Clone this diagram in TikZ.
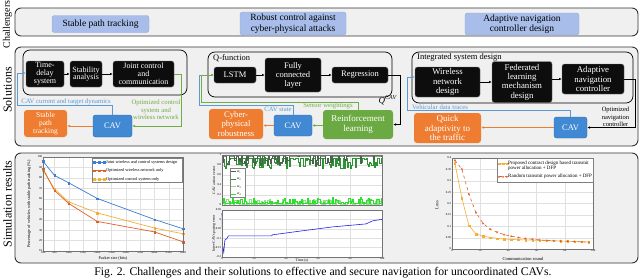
\documentclass[tikz,border=0pt]{standalone}
\usepackage{fontspec}
\setmainfont{Liberation Serif}
\usetikzlibrary{arrows.meta,plotmarks}

\definecolor{panelgray}{HTML}{F0F0F0}
\definecolor{chfill}{HTML}{A8BDE9}
\definecolor{chdraw}{HTML}{8DA7DA}
\definecolor{cavblue}{HTML}{4189D3}
\definecolor{linkblue}{HTML}{5B9BD5}
\definecolor{linkgreen}{HTML}{70AD47}
\definecolor{outorange}{HTML}{EE7D31}
\definecolor{rlgreen}{HTML}{6BAA42}
\definecolor{mblue}{HTML}{3A7FD0}
\definecolor{mred}{HTML}{E0602A}
\definecolor{myellow}{HTML}{F2B134}
\definecolor{wone}{HTML}{46644A}
\definecolor{wtwo}{HTML}{2E9433}
\definecolor{wthree}{HTML}{8FDE8A}
\definecolor{wfour}{HTML}{2BE02B}
\definecolor{errblue}{HTML}{2222EE}

\tikzset{
  panel/.style={draw=black!80, line width=0.9pt, rounded corners=6pt, fill=panelgray},
  grpbox/.style={draw=black, line width=0.7pt, rounded corners=7pt},
  chbox/.style={draw=chdraw, fill=chfill, rounded corners=2.5pt, align=center,
    inner sep=1pt, font=\fontsize{9.5}{10.5}\selectfont},
  blkbox/.style={fill=black!95, draw=black!55, rounded corners=2.5pt, text=white,
    align=center, inner sep=1pt},
  cavbox/.style={fill=cavblue, draw=cavblue!80!black, rounded corners=2.5pt,
    text=white, align=center, inner sep=1pt, font=\fontsize{8.5}{9}\selectfont},
  outbox/.style={fill=outorange, rounded corners=3pt, text=white, align=center,
    inner sep=1pt},
  rlbox/.style={fill=rlgreen, rounded corners=3pt, text=white, align=center,
    inner sep=1pt, font=\fontsize{9}{10}\selectfont},
  lbl/.style={align=center, inner sep=0pt, font=\fontsize{6.7}{7.3}\selectfont},
  sidelbl/.style={rotate=90, inner sep=0pt, font=\fontsize{12}{12}\selectfont},
  arr/.style={-{Latex[length=2.8pt,width=2.6pt]}, line width=0.7pt},
  axbox/.style={draw=black!55, line width=0.3pt, fill=white},
  axedge/.style={draw=black!55, line width=0.3pt},
  gridln/.style={draw=black!12, line width=0.25pt},
  ticklbl/.style={inner sep=0.7pt, font=\fontsize{3}{3}\selectfont},
  axlbl/.style={inner sep=0pt, font=\fontsize{4.2}{4.2}\selectfont},
  leglbl/.style={anchor=west, align=left, inner sep=0pt, font=\fontsize{4.3}{5}\selectfont},
  legbox/.style={draw=black!50, line width=0.25pt, fill=white},
}

\begin{document}
\begin{tikzpicture}[x=1pt, y=-1pt]
  \useasboundingbox (0,0) rectangle (640,279);

  % Row labels on the left
  \node[sidelbl, font=\fontsize{10}{10}\selectfont] (lblchal) at (7.5,24.5) {Challengers};
  \node[sidelbl] (lblsol) at (7.5,90) {Solutions};
  \node[sidelbl] (lblsim) at (7.5,204) {Simulation results};

  % Challengers panel
  \draw[panel] (15,8) rectangle (638,36);
  \node[chbox, minimum width=97pt, minimum height=17pt] (chpath) at (100.5,24) {Stable path tracking};
  \node[chbox, minimum width=106pt, minimum height=23pt] (chrobust) at (293,23.5) {Robust control against\\cyber-physical attacks};
  \node[chbox, minimum width=114pt, minimum height=22pt] (chadapt) at (522,24) {Adaptive navigation\\controller design};

  % Solutions panel
  \draw[panel] (15,47) rectangle (638,146);

  % Solution 1: stable path tracking
  \draw[grpbox] (23,50) rectangle (187,95);
  \node[blkbox, font=\fontsize{8}{7.8}\selectfont, minimum width=38pt, minimum height=26pt] (tds) at (45,74) {Time-\\delay\\system};
  \node[blkbox, font=\fontsize{8}{7.8}\selectfont, minimum width=32pt, minimum height=26pt] (sta) at (86,74) {Stability\\analysis};
  \node[blkbox, font=\fontsize{8}{7.8}\selectfont, minimum width=61pt, minimum height=26pt] (jcc) at (143.5,74) {Joint control\\and\\communication};
  \draw[arr] (tds) -- (sta);
  \draw[arr] (sta) -- (jcc);
  \node[cavbox, minimum width=39pt, minimum height=22pt] (cav1) at (112.5,126) {CAV};
  \node[outbox, font=\fontsize{7.5}{8}\selectfont, minimum width=43pt, minimum height=27pt] (spt) at (45.5,123.5) {Stable\\path\\tracking};
  \draw[arr, linkgreen] (jcc.east) -- ++(7,0) |- (cav1.east);
  \draw[arr, outorange] (cav1.west) -- (cav1.west -| spt.east);
  \coordinate (cavdyn) at (17,105);
  \draw[arr, linkblue] (cav1.north) |- (cavdyn) |- ([yshift=1pt]tds.west);
  \node[lbl, text=linkblue] (lblcavdyn) at (66,101.5) {CAV current and target dynamics};
  \node[lbl, text=linkgreen] (lbloptctl) at (156,110) {Optimized control\\system and\\wireless network};

  % Solution 2: robust control
  \draw[grpbox] (208,52) rectangle (392,97);
  \node[anchor=west, inner sep=0pt, font=\fontsize{8.4}{9}\selectfont] (lblqf) at (213,58.5) {Q-function};
  \node[blkbox, font=\fontsize{8.5}{9}\selectfont, minimum width=42pt, minimum height=16pt] (lstm) at (235,75) {LSTM};
  \node[blkbox, font=\fontsize{8.5}{9}\selectfont, minimum width=56pt, minimum height=34pt] (fcl) at (293,75) {Fully\\connected\\layer};
  \node[blkbox, font=\fontsize{8.5}{9}\selectfont, minimum width=56pt, minimum height=16pt] (reg) at (360,75) {Regression};
  \draw[arr] (lstm) -- (fcl);
  \draw[arr] (fcl) -- (reg);
  \node[rlbox, minimum width=70pt, minimum height=29pt] (rl) at (358,124.5) {Reinforcement\\learning};
  \node[cavbox, minimum width=38pt, minimum height=21pt] (cav2) at (293,125.5) {CAV};
  \node[outbox, font=\fontsize{8.7}{9.3}\selectfont, minimum width=54pt, minimum height=30pt] (cps) at (236,124) {Cyber-\\physical\\robustness};
  \draw[arr] (reg.east) -- ++(12,0) |- (rl.east);
  \node[anchor=east, inner sep=0pt, font=\fontsize{9}{9}\selectfont] (lblq) at (397.5,100) {\textit{Q}\textsuperscript{\textit{CAV}}};
  \draw[arr, linkgreen] (rl.west |- cav2.east) -- (cav2.east);
  \draw[arr, outorange] (cav2.west) -- (cav2.west -| cps.east);
  \coordinate (cavst) at (199,105);
  \coordinate (sensw) at (201,102);
  \draw[arr, linkblue] (cav2.north) |- (cavst) |- (lstm.west);
  \draw[arr, linkgreen] (rl.north) |- (sensw) |- (lstm.west);
  \node[lbl, text=linkblue] (lblcavst) at (278,109.5) {CAV state};
  \node[lbl, text=linkgreen] (lblsensw) at (328,106) {Sensor weightings};

  % Solution 3: adaptive navigation
  \draw[grpbox] (412,52) rectangle (633,103);
  \node[anchor=west, inner sep=0pt, font=\fontsize{8.5}{9}\selectfont] (lblisd) at (417,57.5) {Integrated system design};
  \node[blkbox, font=\fontsize{8.8}{9.3}\selectfont, minimum width=65pt, minimum height=30pt] (wnd) at (447.5,82) {Wireless\\network\\design};
  \node[blkbox, font=\fontsize{8.8}{9.3}\selectfont, minimum width=60pt, minimum height=41pt] (fld) at (522,82) {Federated\\learning\\mechanism\\design};
  \node[blkbox, font=\fontsize{8.8}{9.3}\selectfont, minimum width=62pt, minimum height=30pt] (anc) at (593,79) {Adaptive\\navigation\\controller};
  \draw[arr] (wnd) -- (fld);
  \draw[arr] (fld.east |- anc.west) -- (anc.west);
  \node[cavbox, minimum width=33pt, minimum height=21pt] (cav3) at (570.5,127.5) {CAV};
  \node[outbox, font=\fontsize{9}{9.8}\selectfont, minimum width=67pt, minimum height=30pt] (qat) at (447.5,128) {Quick\\adaptivity to\\the traffic};
  \draw[arr] (anc.east) -- ++(11,0) |- (cav3.east);
  \draw[arr, outorange] (cav3.west) -- (cav3.west -| qat.east);
  \coordinate (vdtr) at (407,110);
  \draw[arr, linkblue] (cav3.north) |- (vdtr) |- ([yshift=5pt]wnd.west);
  \node[lbl, anchor=west, text=linkblue] (lblvdt) at (412,107) {Vehicular data traces};
  \node[lbl, font=\fontsize{6.5}{7.3}\selectfont] (lbloptnav) at (615.5,117) {Optimized\\navigation\\controller};

  % Simulation results panel
  \draw[panel] (15,153) rectangle (638,263);

  % Plot 1: packet size
  \draw[axbox] (43,157) rectangle (183,251);
  \begin{scope}[shift={(40.143,261.444)}, x=0.028571pt, y=1.04444pt]
    \foreach \gx [count=\i] in {100,500,1000,1500,2000,2500,3000,3500,4000,4500,5000} {
      \draw[gridln] (\gx,10) -- (\gx,100);
      \node[ticklbl, anchor=north] (xtpkt\i) at (\gx,10) {\gx};
    }
    \foreach \gy [count=\i] in {10,20,30,40,50,60,70,80,90,100} {
      \draw[gridln] (100,\gy) -- (5000,\gy);
      \node[ticklbl, anchor=east] (ytpkt\i) at (100,\gy) {\gy};
    }
    \draw[mblue, line width=0.7pt] plot[mark=square*, mark size=0.8pt, mark options={line width=0.2pt}]
      coordinates {(100,96) (500,82.4) (1000,75.3) (2000,60.3) (4000,40.2) (5000,31.3)};
    \draw[myellow, line width=0.7pt] plot[mark=square*, mark size=0.8pt, mark options={line width=0.2pt}]
      coordinates {(100,87) (500,69.5) (1000,57) (2000,46.5) (4000,32) (5000,26.5)};
    \draw[mred, line width=0.7pt] plot[mark=square*, mark size=0.8pt, mark options={line width=0.2pt}]
      coordinates {(100,89) (500,68) (1000,55.5) (2000,38.3) (4000,28.3) (5000,18.8)};
  \end{scope}
  \draw[axedge] (43,157) rectangle (183,251);
  \node[axlbl, rotate=90] (ylblpkt) at (29,204) {Percentage of vehicles with stable path tracking (\%)};
  \node[axlbl] (xlblpkt) at (113,258.5) {Packet size (bits)};
  \draw[legbox] (92,158) rectangle (182,182);
  \foreach \c/\t/\yy [count=\i] in {mblue/Joint wireless and control systems design/162.3,
      mred/Optimized wireless network only/170.7, myellow/Optimized control system only/179} {
    \draw[\c, line width=0.7pt] plot[mark=square*, mark size=0.8pt, mark options={line width=0.2pt}]
      coordinates {(94,\yy) (99,\yy) (104,\yy)};
    \node[leglbl] (legpkt\i) at (106,\yy) {\t};
  }

  % Plot 2: CAV action vector and spacing error
  \draw[axbox] (222,155) rectangle (382,205);
  \begin{scope}[shift={(222,205)}, x=1.6pt, y=50pt]
    \foreach \gx in {0,20,40,60,80,100}
      \draw[gridln] (\gx,0) -- (\gx,1);
    \foreach \gy [count=\i] in {0,0.2,0.4,0.6,0.8,1} {
      \draw[gridln] (0,\gy) -- (100,\gy);
      \node[ticklbl, anchor=east] (ytact\i) at (0,\gy) {\gy};
    }
    \pgfmathsetseed{7}
    \draw[wtwo, line width=0.5pt, const plot] plot[domain=0:100, samples=140]
      (\x,{0.93-0.2*max(0,rnd-0.45)/0.55});
    \draw[wone, line width=0.5pt, const plot] plot[domain=0:100, samples=140]
      (\x,{0.98-0.2*max(0,rnd-0.6)/0.4});
    \draw[wthree, line width=0.5pt, const plot] plot[domain=0:100, samples=140]
      (\x,{0.02+0.1*max(0,rnd-0.5)/0.5});
    \draw[wfour, line width=0.5pt, const plot] plot[domain=0:100, samples=140]
      (\x,{0.03+0.12*max(0,rnd-0.55)/0.45});
  \end{scope}
  \draw[axedge] (222,155) rectangle (382,205);
  \draw[legbox] (230,168) rectangle (245,197);
  \foreach \c/\n/\yy in {wone/1/171.7, wtwo/2/179.3, wthree/3/186.7, wfour/4/194} {
    \draw[\c, line width=0.6pt] (231,\yy) -- (236,\yy);
    \node[leglbl, font=\fontsize{3.8}{4}\selectfont] (legw\n) at (236.6,\yy) {\textit{w}\textsubscript{\n}};
  }
  \node[axlbl, rotate=90, font=\fontsize{3.8}{4}\selectfont] (ylblact) at (214,180) {CAV action vector};

  \draw[axbox] (222,210) rectangle (382,257);
  \begin{scope}[shift={(222,219.4)}, x=1.6pt, y=188pt]
    \foreach \gx [count=\i] in {0,20,40,60,80,100} {
      \draw[gridln] (\gx,-0.2) -- (\gx,0.05);
      \node[ticklbl, anchor=north] (xttime\i) at (\gx,-0.2) {\gx};
    }
    \foreach \gy [count=\i] in {0.05,0,-0.05,-0.1,-0.15,-0.2} {
      \draw[gridln] (0,\gy) -- (100,\gy);
      \node[ticklbl, anchor=east] (yterr\i) at (0,\gy) {\gy};
    }
    \draw[errblue, line width=0.6pt] plot coordinates {(0,0.034) (0.4,-0.14) (1.1,-0.175) (1.8,-0.11)
      (2.8,-0.104) (4,-0.088) (31,-0.088) (31.5,-0.082) (49,-0.062) (69,-0.04) (90,-0.024)
      (94,-0.008) (99,-0.001) (100,0)};
  \end{scope}
  \draw[axedge] (222,210) rectangle (382,257);
  \node[axlbl, rotate=90, font=\fontsize{3.8}{4}\selectfont] (ylblerr) at (214,233.5) {Inter-CAV spacing error};
  \node[axlbl, font=\fontsize{3.8}{4}\selectfont] (xlbltime) at (302,261) {Time (s)};

  % Plot 3: loss vs communication round
  \draw[axbox] (452,158) rectangle (593,249);
  \begin{scope}[shift={(452,249)}, x=1.41pt, y=227.5pt]
    \foreach \gx [count=\i] in {0,20,40,60,80,100} {
      \draw[gridln] (\gx,0) -- (\gx,0.4);
      \node[ticklbl, anchor=north] (xtround\i) at (\gx,0) {\gx};
    }
    \foreach \gy [count=\i] in {0,0.05,0.1,0.15,0.2,0.25,0.3,0.35,0.4} {
      \draw[gridln] (0,\gy) -- (100,\gy);
      \node[ticklbl, anchor=east] (ytloss\i) at (0,\gy) {\gy};
    }
    \draw[myellow, line width=0.6pt] plot[mark=square*, mark size=0.7pt, mark options={line width=0.2pt}]
      coordinates {(2,0.378) (7,0.224) (12,0.103) (17,0.066) (22,0.057) (27,0.051) (32,0.047)
      (37,0.044) (42,0.042) (47,0.041) (52,0.04) (57,0.039) (62,0.038) (67,0.037) (72,0.036)
      (77,0.035) (82,0.034) (87,0.033) (92,0.032) (97,0.031)};
    \draw[mred, dashed, line width=0.6pt] plot[mark=star, mark size=1.1pt, mark options={solid, line width=0.4pt}]
      coordinates {(2,0.39) (7,0.351) (12,0.241) (17,0.16) (22,0.113) (27,0.087) (32,0.074)
      (37,0.063) (42,0.056) (47,0.051) (52,0.046) (57,0.043) (62,0.04) (67,0.038) (72,0.036)
      (77,0.035) (82,0.034) (87,0.033) (92,0.031) (97,0.03)};
  \end{scope}
  \draw[axedge] (452,158) rectangle (593,249);
  \node[axlbl, rotate=90, font=\fontsize{4.5}{4.5}\selectfont] (ylblloss) at (437,205) {Loss};
  \node[axlbl, font=\fontsize{4.5}{4.5}\selectfont] (xlblround) at (523,258.5) {Communication round};
  \draw[legbox] (497,158) rectangle (593,182);
  \draw[myellow, line width=0.6pt] plot[mark=square*, mark size=0.7pt, mark options={line width=0.2pt}]
    coordinates {(499,163.3) (503,163.3) (507,163.3)};
  \node[leglbl, font=\fontsize{5}{5}\selectfont] (legprop) at (508,165.8) {Proposed contract design based transmit\\power allocation + DFP};
  \draw[mred, dashed, line width=0.6pt] plot[mark=star, mark size=1.1pt, mark options={solid, line width=0.4pt}]
    coordinates {(499,176.7) (503,176.7) (507,176.7)};
  \node[leglbl, font=\fontsize{5}{5}\selectfont] (legrand) at (508,176.7) {Random transmit power allocation + DFP};

  % Caption
  \node[inner sep=0pt, font=\fontsize{11.7}{13}\selectfont] (caption) at (323,273) {Fig. 2. Challenges and their solutions to effective and secure navigation for uncoordinated CAVs.};
\end{tikzpicture}
\end{document}
